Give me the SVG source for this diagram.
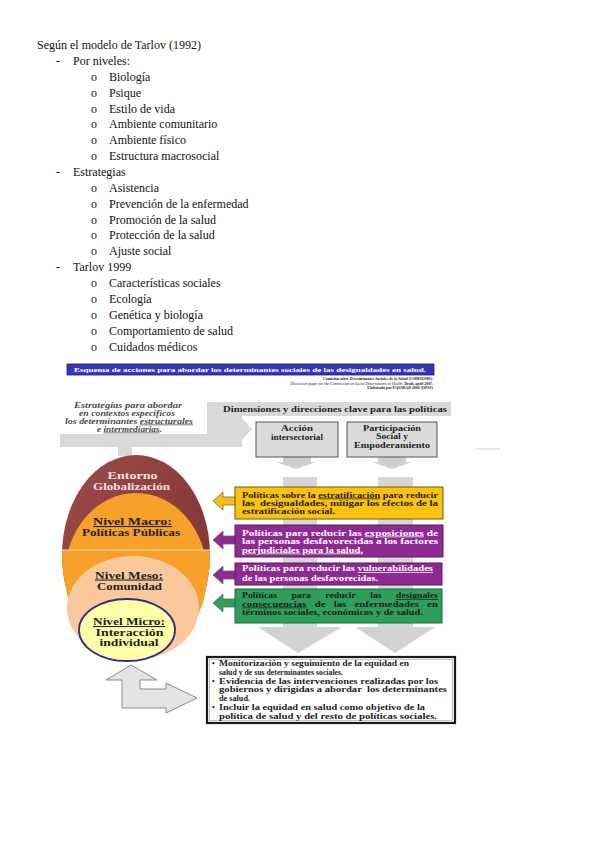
<svg xmlns="http://www.w3.org/2000/svg" width="599" height="848" viewBox="0 0 599 848">
<style>
.t{font-family:"Liberation Serif","Times New Roman",serif;font-size:12px;fill:#111}
.b{font-family:"Liberation Serif","Times New Roman",serif;font-weight:bold}
.bx{font-size:7.3px}
.dk{fill:#1e1e1e}
.wh{fill:#fff}
.el{font-size:10.5px;text-anchor:middle}
.u{text-decoration:underline}
.gray{fill:#d9d9d9}
.lar{stroke:#6a6a6a;stroke-width:0.8}
</style>
<defs>
<linearGradient id="maroon" x1="0" y1="0" x2="1" y2="1">
<stop offset="0" stop-color="#9c4c4a"/>
<stop offset="1" stop-color="#7a2f2f"/>
</linearGradient>
</defs>
<rect width="599" height="848" fill="#fff"/>

<g id="outline" class="t">
<text x="37" y="49">Según el modelo de Tarlov (1992)</text>
<text x="56" y="65">-</text><text x="73" y="65">Por niveles:</text>
<text x="91" y="81">o</text><text x="109" y="81">Biología</text>
<text x="91" y="97">o</text><text x="109" y="97">Psique</text>
<text x="91" y="113">o</text><text x="109" y="113">Estilo de vida</text>
<text x="91" y="128">o</text><text x="109" y="128">Ambiente comunitario</text>
<text x="91" y="144">o</text><text x="109" y="144">Ambiente físico</text>
<text x="91" y="160">o</text><text x="109" y="160">Estructura macrosocial</text>
<text x="56" y="176">-</text><text x="73" y="176">Estrategias</text>
<text x="91" y="192">o</text><text x="109" y="192">Asistencia</text>
<text x="91" y="208">o</text><text x="109" y="208">Prevención de la enfermedad</text>
<text x="91" y="224">o</text><text x="109" y="224">Promoción de la salud</text>
<text x="91" y="239">o</text><text x="109" y="239">Protección de la salud</text>
<text x="91" y="255">o</text><text x="109" y="255">Ajuste social</text>
<text x="56" y="271">-</text><text x="73" y="271">Tarlov 1999</text>
<text x="91" y="287">o</text><text x="109" y="287">Características sociales</text>
<text x="91" y="303">o</text><text x="109" y="303">Ecología</text>
<text x="91" y="319">o</text><text x="109" y="319">Genética y biología</text>
<text x="91" y="335">o</text><text x="109" y="335">Comportamiento de salud</text>
<text x="91" y="351">o</text><text x="109" y="351">Cuidados médicos</text>
</g>

<g id="header">
<rect x="67" y="364" width="367" height="11" fill="#3636b8" stroke="#1c1c6a" stroke-width="0.8"/>
<text class="b wh" x="250" y="372" font-size="5.8" text-anchor="middle" textLength="352" lengthAdjust="spacingAndGlyphs">Esquema de acciones para abordar los determinantes sociales de las desigualdades en salud.</text>
<text class="b dk" x="433" y="380" font-size="3.9" text-anchor="end">Comisión sobre Determinantes Sociales de la Salud (CSDH/OMS).</text>
<text class="b dk" x="433" y="384.5" font-size="3.9" text-anchor="end"><tspan font-style="italic" font-weight="normal">Discussion paper for the Commission on Social Determinants of Health.</tspan> Draft, april 2007.</text>
<text class="b dk" x="433" y="389" font-size="3.9" text-anchor="end">Elaborado por EQUIDAD 2006 (OPSS)</text>
</g>

<g id="strategies">
<text class="b" x="128" y="407.5" font-size="7.5" font-style="italic" fill="#4a4a4a" text-anchor="middle" textLength="108" lengthAdjust="spacingAndGlyphs">Estrategias para abordar</text>
<text class="b" x="127" y="415.5" font-size="7.5" font-style="italic" fill="#4a4a4a" text-anchor="middle" textLength="96" lengthAdjust="spacingAndGlyphs">en contextos específicos</text>
<text class="b" x="129" y="423.5" font-size="7.5" font-style="italic" fill="#4a4a4a" text-anchor="middle" textLength="128" lengthAdjust="spacingAndGlyphs">los determinantes <tspan class="u">estructurales</tspan></text>
<text class="b" x="129.5" y="431.5" font-size="7.5" font-style="italic" fill="#4a4a4a" text-anchor="middle" textLength="65" lengthAdjust="spacingAndGlyphs">e <tspan class="u">intermediarias</tspan>.</text>
</g>

<g id="connectors">
<rect class="gray" x="207" y="402" width="244" height="14"/>
<rect class="gray" x="207" y="402" width="35" height="45"/>
<rect class="gray" x="60" y="434" width="182" height="13"/>
<polygon class="gray" points="242,418 252,429 242,440"/>
<rect class="gray" x="118" y="447" width="14" height="9"/>
<line x1="475" y1="449" x2="500" y2="449" stroke="#cfcfcf" stroke-width="1"/>
<rect x="283" y="457" width="28" height="5" fill="#cfcfcf"/>
<polygon points="276,462 316,462 296,469" fill="#cfcfcf"/>
<rect x="378" y="457" width="28" height="5" fill="#cfcfcf"/>
<polygon points="372,462 412,462 392,469" fill="#cfcfcf"/>
<rect x="283" y="477" width="34" height="150" fill="#d6d6d6"/>
<rect x="378" y="477" width="35" height="150" fill="#d6d6d6"/>
<polygon points="258,627 342,627 298,653" fill="#d2d2d2"/>
<polygon points="355,627 435,627 395,653" fill="#d2d2d2"/>
<polygon class="lar" fill="#f7be12" points="213,501 223,492 223,497 236,497 236,505 223,505 223,510"/>
<polygon class="lar" fill="#8e2a92" points="213,540 223,531 223,536 236,536 236,544 223,544 223,549"/>
<polygon class="lar" fill="#8e2a92" points="213,575 223,566 223,571 236,571 236,579 223,579 223,584"/>
<polygon class="lar" fill="#2e9e5b" points="213,603 223,594 223,599 236,599 236,607 223,607 223,612"/>
<polygon points="131,665 157,680 140,680 140,689 166,689 166,683 197,698 166,713 166,708 122,708 122,680 106,680" fill="#e4e4e4" stroke="#8a8a8a" stroke-width="1"/>
</g>

<g id="dimensiones">
<text class="b dk" x="223" y="411.5" font-size="7.5" textLength="224" lengthAdjust="spacingAndGlyphs">Dimensiones y direcciones clave para las políticas</text>
</g>

<g id="accion">
<rect x="256" y="422" width="82" height="35" fill="#dadada" stroke="#555" stroke-width="1"/>
<text class="b dk" x="297" y="431" font-size="7.8" text-anchor="middle" textLength="32" lengthAdjust="spacingAndGlyphs">Acción</text>
<text class="b dk" x="297" y="439.5" font-size="7.8" text-anchor="middle" textLength="52" lengthAdjust="spacingAndGlyphs">intersectorial</text>
</g>

<g id="participacion">
<rect x="347" y="422" width="90" height="35" fill="#dadada" stroke="#555" stroke-width="1"/>
<text class="b dk" x="392" y="430.5" font-size="7.8" text-anchor="middle" textLength="58" lengthAdjust="spacingAndGlyphs">Participación</text>
<text class="b dk" x="392" y="439" font-size="7.8" text-anchor="middle" textLength="32" lengthAdjust="spacingAndGlyphs">Social y</text>
<text class="b dk" x="392" y="447.5" font-size="7.8" text-anchor="middle" textLength="76" lengthAdjust="spacingAndGlyphs">Empoderamiento</text>
</g>

<g id="pol-estratificacion">
<rect x="235" y="487" width="208" height="32" fill="#fbc20e" stroke="#6e5a12" stroke-width="1"/>
<text class="b bx dk" x="242" y="497.5" textLength="196" lengthAdjust="spacingAndGlyphs">Políticas sobre la <tspan class="u">estratificación</tspan> para reducir</text>
<text class="b bx dk" x="242" y="505.5" textLength="196" lengthAdjust="spacingAndGlyphs" xml:space="preserve">las  desigualdades, mitigar los efectos de la</text>
<text class="b bx dk" x="242" y="513.5" textLength="93" lengthAdjust="spacingAndGlyphs">estratificación social.</text>
</g>

<g id="pol-exposiciones">
<rect x="235" y="525" width="208" height="32" fill="#8e2a92" stroke="#5a1a5e" stroke-width="1"/>
<text class="b bx wh" x="242" y="535.5" textLength="196" lengthAdjust="spacingAndGlyphs">Políticas para reducir las <tspan class="u">exposiciones</tspan> de</text>
<text class="b bx wh" x="242" y="544" textLength="196" lengthAdjust="spacingAndGlyphs">las personas desfavorecidas a los factores</text>
<text class="b bx wh u" x="242" y="552.5" textLength="121" lengthAdjust="spacingAndGlyphs">perjudiciales para la salud.</text>
</g>

<g id="pol-vulnerabilidades">
<rect x="235" y="563" width="207" height="22" fill="#8e2a92" stroke="#5a1a5e" stroke-width="1"/>
<text class="b bx wh" x="242" y="571" textLength="191" lengthAdjust="spacingAndGlyphs">Políticas para reducir las <tspan class="u">vulnerabilidades</tspan></text>
<text class="b bx wh" x="242" y="580.5" textLength="136" lengthAdjust="spacingAndGlyphs">de las personas desfavorecidas.</text>
</g>

<g id="pol-consecuencias">
<rect x="235" y="589" width="207" height="34" fill="#2e9e5b" stroke="#1d6b3c" stroke-width="1"/>
<text class="b bx dk" x="242" y="598" textLength="196" lengthAdjust="spacingAndGlyphs" xml:space="preserve">Políticas      para      reducir      las      <tspan class="u">desiguales</tspan></text>
<text class="b bx dk" x="242" y="606.5" textLength="196" lengthAdjust="spacingAndGlyphs" xml:space="preserve"><tspan class="u">consecuencias</tspan>   de   las   enfermedades   en</text>
<text class="b bx dk" x="242" y="615" textLength="181" lengthAdjust="spacingAndGlyphs">términos sociales, económicos y de salud.</text>
</g>

<g id="monitorizacion">
<rect x="207" y="657" width="248" height="66" fill="#fff" stroke="#1a1a1a" stroke-width="2.2"/>
<rect x="209.5" y="659.5" width="243" height="61" fill="none" stroke="#9a9a9a" stroke-width="0.6"/>
<text class="b dk" font-size="7.4" x="212" y="666">•</text>
<text class="b dk" font-size="7.4" x="219" y="666" textLength="190" lengthAdjust="spacingAndGlyphs">Monitorización y seguimiento de la equidad en</text>
<text class="b dk" font-size="7.4" x="219" y="674.8" textLength="124" lengthAdjust="spacingAndGlyphs">salud y de sus determinantes sociales.</text>
<text class="b dk" font-size="7.4" x="212" y="683.6">•</text>
<text class="b dk" font-size="7.4" x="219" y="683.6" textLength="219" lengthAdjust="spacingAndGlyphs">Evidencia de las intervenciones realizadas por los</text>
<text class="b dk" font-size="7.4" x="219" y="692.4" textLength="228" lengthAdjust="spacingAndGlyphs" xml:space="preserve">gobiernos y dirigidas a abordar  los determinantes</text>
<text class="b dk" font-size="7.4" x="219" y="701.2" textLength="31" lengthAdjust="spacingAndGlyphs">de salud.</text>
<text class="b dk" font-size="7.4" x="212" y="710">•</text>
<text class="b dk" font-size="7.4" x="219" y="710" textLength="206" lengthAdjust="spacingAndGlyphs">Incluir la equidad en salud como objetivo de la</text>
<text class="b dk" font-size="7.4" x="219" y="718.8" textLength="218" lengthAdjust="spacingAndGlyphs">política de salud y del resto de políticas sociales.</text>
</g>

<g id="entorno">
<ellipse cx="136" cy="555" rx="74" ry="100" fill="url(#maroon)"/>
<text class="b el" x="132.5" y="478.5" fill="#efe0df" textLength="50" lengthAdjust="spacingAndGlyphs">Entorno</text>
<text class="b el" x="131.5" y="489.5" fill="#efe0df" textLength="77" lengthAdjust="spacingAndGlyphs">Globalización</text>
</g>

<g id="nivel-macro">
<path d="M62.1 550 A74 100 0 1 0 209.9 550 Z" fill="#f7a02a"/>
<ellipse cx="136" cy="575" rx="71" ry="82" fill="#f7a02a"/>
<line x1="62" y1="550" x2="210" y2="550" stroke="#f6dca6" stroke-width="1"/>
<text class="b el dk" x="132.5" y="525" textLength="79" lengthAdjust="spacingAndGlyphs"><tspan class="u">Nivel Macro:</tspan></text>
<text class="b el dk" x="131" y="535.5" textLength="98" lengthAdjust="spacingAndGlyphs">Políticas Públicas</text>
</g>

<g id="nivel-meso">
<ellipse cx="133" cy="608" rx="66" ry="52" fill="#f9c89c"/>
<text class="b el dk" x="129" y="578.5" textLength="68" lengthAdjust="spacingAndGlyphs"><tspan class="u">Nivel Meso:</tspan></text>
<text class="b el dk" x="129.5" y="589.5" textLength="65" lengthAdjust="spacingAndGlyphs">Comunidad</text>
</g>

<g id="nivel-micro">
<ellipse cx="127" cy="630" rx="48" ry="31" fill="#ffffa8" stroke="#2e2e88" stroke-width="1.8"/>
<text class="b el dk" x="129" y="625" textLength="72" lengthAdjust="spacingAndGlyphs"><tspan class="u">Nivel Micro:</tspan></text>
<text class="b el dk" x="129.5" y="635.5" textLength="68" lengthAdjust="spacingAndGlyphs">Interacción</text>
<text class="b el dk" x="129" y="645.5" textLength="59" lengthAdjust="spacingAndGlyphs">individual</text>
</g>
</svg>
